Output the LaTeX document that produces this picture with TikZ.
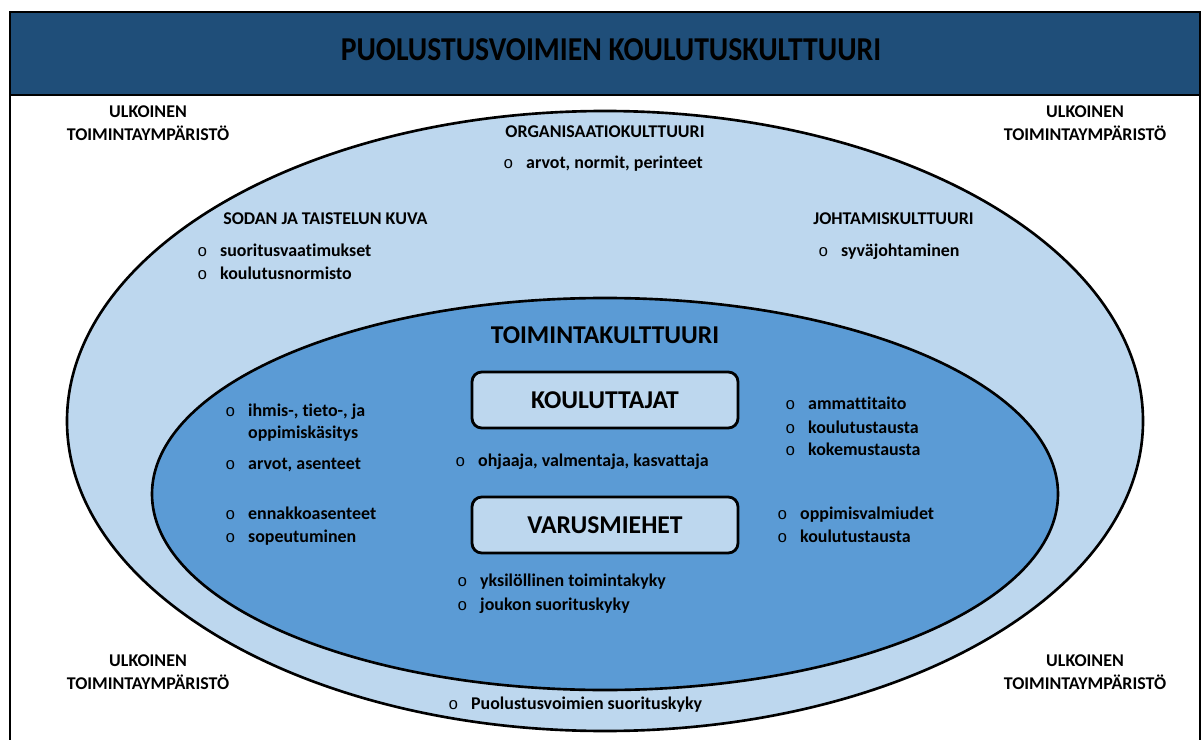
\documentclass[tikz,border=0pt]{standalone}
\usepackage{fontspec}
\setmainfont[Ligatures=NoCommon]{Carlito}
\newfontfamily\bulletfont{Liberation Mono}
\newcommand{\bul}{\makebox[13pt][l]{\bulletfont\mdseries\fontsize{9.5}{12}\selectfont o}}
\newcommand{\nobul}{\makebox[13pt][l]{}}
\begin{document}
\begin{tikzpicture}[x=0.02cm,y=-0.02cm,
    txt/.style={font=\bfseries\fontsize{10.2}{12}\selectfont,inner sep=0pt},
    item/.style={txt,anchor=base west},
    bigtxt/.style={font=\bfseries\fontsize{14.6}{17}\selectfont,inner sep=0pt},
    groupbox/.style={draw,line width=1.6pt,rounded corners=5.5pt,fill=r189g215b238,
        minimum width=5.32cm,minimum height=1.12cm,bigtxt}]
\useasboundingbox (0,0) rectangle (1204,740);
\clip (0,0) rectangle (1204,740);

% Changing colors
\definecolor{r31g78b121}{rgb}{0.121569,0.305882,0.474510}%
\definecolor{r189g215b238}{rgb}{0.741176,0.843137,0.933333}%
\definecolor{r91g155b213}{rgb}{0.356863,0.607843,0.835294}%

% Drawing frame and header
\fill [white] (0,0) rectangle (1204,740);
\draw [line width=1.6pt] (10,12) rectangle (1200,760);
\draw [line width=1.6pt,fill=r31g78b121] (10,12) rectangle (1200,95);
\node [inner sep=0pt] (title) at (611,50)
    {\bfseries\fontsize{19}{22}\selectfont\scalebox{0.89}[1]{PUOLUSTUSVOIMIEN KOULUTUSKULTTUURI}};

% Drawing outer ellipse
\draw [line width=1.5pt,fill=r189g215b238] (605,421) ellipse [x radius=538,y radius=310];

% Drawing inner ellipse
\draw [line width=1.5pt,fill=r91g155b213] (605,494) ellipse [x radius=453,y radius=196];

% Outer corners
\node [txt,anchor=base] (ulk1a) at (148,118) {ULKOINEN};
\node [txt,anchor=base] (ulk1b) at (148,141) {TOIMINTAYMPÄRISTÖ};
\node [txt,anchor=base] (ulk2a) at (1085,118) {ULKOINEN};
\node [txt,anchor=base] (ulk2b) at (1085,141) {TOIMINTAYMPÄRISTÖ};
\node [txt,anchor=base] (ulk3a) at (148,666) {ULKOINEN};
\node [txt,anchor=base] (ulk3b) at (148,689) {TOIMINTAYMPÄRISTÖ};
\node [txt,anchor=base] (ulk4a) at (1085,666) {ULKOINEN};
\node [txt,anchor=base] (ulk4b) at (1085,689) {TOIMINTAYMPÄRISTÖ};

% Outer ellipse texts
\node [txt,anchor=base] (org) at (605,137) {ORGANISAATIOKULTTUURI};
\node [item] (org1) at (503,169) {\bul arvot, normit, perinteet};
\node [txt,anchor=base west] (sodan) at (223,224) {SODAN JA TAISTELUN KUVA};
\node [item] (sodan1) at (197,256) {\bul suoritusvaatimukset};
\node [item] (sodan2) at (197,279) {\bul koulutusnormisto};
\node [txt,anchor=base west] (johto) at (813,224) {JOHTAMISKULTTUURI};
\node [item] (johto1) at (818,256) {\bul syväjohtaminen};
\node [item] (pv1) at (448,709) {\bul Puolustusvoimien suorituskyky};

% Inner ellipse texts
\node [bigtxt,anchor=base] (toim) at (605,343) {TOIMINTAKULTTUURI};
\node [groupbox] (koul) at (605,400) {KOULUTTAJAT};
\node [groupbox] (varus) at (605,525) {VARUSMIEHET};

\node [item] (vasen1) at (225,416) {\bul ihmis-, tieto-, ja};
\node [item] (vasen2) at (225,438) {\nobul oppimiskäsitys};
\node [item] (vasen3) at (225,469) {\bul arvot, asenteet};
\node [item] (vasen4) at (225,519) {\bul ennakkoasenteet};
\node [item] (vasen5) at (225,542) {\bul sopeutuminen};

\node [item] (rooli1) at (455,466) {\bul ohjaaja, valmentaja, kasvattaja};

\node [item] (oikea1) at (785,409) {\bul ammattitaito};
\node [item] (oikea2) at (785,433) {\bul koulutustausta};
\node [item] (oikea3) at (785,455) {\bul kokemustausta};
\node [item] (oikea4) at (777,519) {\bul oppimisvalmiudet};
\node [item] (oikea5) at (777,542) {\bul koulutustausta};

\node [item] (kyky1) at (457,586) {\bul yksilöllinen toimintakyky};
\node [item] (kyky2) at (457,610) {\bul joukon suorituskyky};
\end{tikzpicture}
\end{document}
